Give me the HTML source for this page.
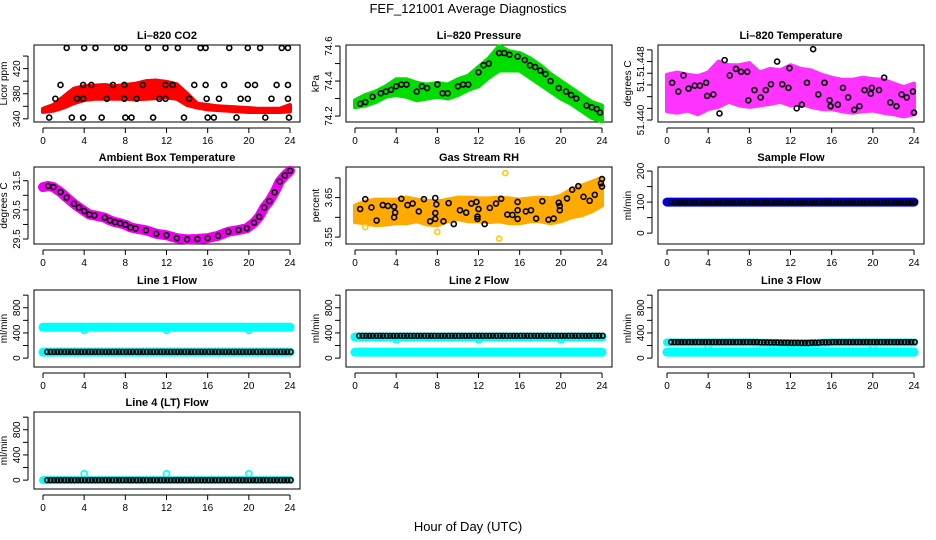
<!DOCTYPE html>
<html><head><meta charset="utf-8">
<style>
html,body{margin:0;padding:0;background:#fff;}
svg{display:block;font-family:"Liberation Sans",Arial,sans-serif;}
</style></head>
<body>
<svg id="chart" width="936" height="540" viewBox="0 0 936 540" xmlns="http://www.w3.org/2000/svg">
<text x="468" y="13" font-size="13" text-anchor="middle">FEF_121001  Average Diagnostics</text>
<text x="468" y="531" font-size="13" text-anchor="middle">Hour of Day (UTC)</text>
</svg>
<script>
// ---------- data ----------
const hourly = [0,1,2,3,4,5,6,7,8,9,10,11,12,13,14,15,16,17,18,19,20,21,22,23,24];
const xTicks = [0,4,8,12,16,20,24];

// CO2
const co2Lo = [351,353,358,365,370,372,372,372,372,371,372,373,374,372,362,358,355,354,353,352,351,351,351,351,352];
const co2Hi = [356,362,375,388,392,393,394,392,394,396,400,401,399,395,380,364,362,360,359,358,357,356,356,356,362];
const co2PtH = [2.3,4.0,5.1,7.2,7.9,10.2,11.9,13.1,15.3,15.8,18.1,19.9,21.1,23.2,23.8,
 1.7,3.9,4.7,6.8,7.9,9.7,11.9,12.6,14.7,15.8,17.6,19.9,20.6,22.7,23.8,
 1.2,3.3,3.9,6.2,7.9,9.1,11.3,11.9,14.2,15.9,17.1,19.2,19.9,22.2,23.8,
 0.6,2.8,3.9,5.7,8.0,8.6,10.7,13.7,16.0,16.6,18.8,21.6,23.9];
const co2PtV = [453,453,453,453,453,453,453,453,453,453,453,453,453,453,453,
 394,394,394,394,394,394,394,394,394,394,394,394,394,394,394,
 372,372,372,372,372,372,372,372,372,372,372,372,372,372,372,
 342,342,342,342,342,342,342,342,342,342,342,342,342];

// Pressure
const presLo = [74.25,74.26,74.28,74.31,74.32,74.31,74.29,74.30,74.31,74.30,74.32,74.35,74.37,74.42,74.46,74.46,74.46,74.42,74.38,74.34,74.30,74.27,74.23,74.19,74.17];
const presHi = [74.29,74.32,74.34,74.37,74.41,74.41,74.39,74.38,74.39,74.38,74.41,74.43,74.48,74.53,74.60,74.57,74.56,74.53,74.49,74.44,74.40,74.36,74.32,74.28,74.26];
const presPtH = [0.5,1,1.7,2.5,3,3.5,4,4.5,5,6,6.5,7,8,8.5,9,10,10.5,11,12,12.5,13,14,14.5,15,15.8,16.5,17,17.5,18,18.5,19,19.8,20.5,21,21.5,22.5,23,23.5,23.8];
const presPtV = [74.27,74.28,74.31,74.33,74.34,74.35,74.37,74.38,74.38,74.34,74.37,74.36,74.38,74.33,74.33,74.37,74.38,74.38,74.45,74.49,74.50,74.56,74.56,74.55,74.54,74.52,74.49,74.48,74.46,74.44,74.40,74.36,74.34,74.32,74.30,74.26,74.25,74.24,74.22];

// Li-820 temperature
const tLo = [51.4412,51.4410,51.4413,51.4408,51.4415,51.4418,51.4425,51.4420,51.4418,51.4420,51.4422,51.4425,51.4420,51.4422,51.4418,51.4415,51.4415,51.4412,51.4410,51.4412,51.4413,51.4410,51.4408,51.4405,51.4408];
const tHi = [51.4462,51.4465,51.4462,51.4460,51.4465,51.4480,51.4475,51.4475,51.4478,51.4465,51.4470,51.4468,51.4475,51.4470,51.4468,51.4462,51.4458,51.4455,51.4455,51.4458,51.4456,51.4455,51.4450,51.4445,51.4450];
const tPtH = [0.5,1.1,1.6,2.1,2.7,3.2,3.8,3.9,4.5,5.1,5.6,6.1,6.7,7.2,7.8,7.9,8.5,9.1,9.6,10.1,10.7,11.2,11.8,11.9,12.6,13.1,13.6,14.2,14.7,15.3,15.8,15.9,16.6,17.1,17.6,18.2,18.7,19.2,19.8,19.9,20.6,21.1,21.7,22.3,22.8,23.3,23.9,24.0];
const tPtV = [51.4451,51.4439,51.4461,51.4443,51.4447,51.4447,51.4451,51.4433,51.4435,51.4409,51.4482,51.4461,51.4470,51.4466,51.4466,51.4427,51.4441,51.4431,51.4441,51.4449,51.4480,51.4449,51.4444,51.4471,51.4416,51.4421,51.4451,51.4497,51.4435,51.4451,51.4427,51.4419,51.4421,51.4444,51.4431,51.4414,51.4419,51.4441,51.4436,51.4444,51.4441,51.4458,51.4424,51.4419,51.4435,51.4431,51.4439,51.4410];

// Ambient box temperature
const ambH = [0.5,1,1.7,2.3,3,3.5,4,4.5,5,6,6.5,7,7.5,8,8.5,9,10,11,12,13,14,15,16,17,18,19,19.8,20.5,21,21.5,22,22.5,23,23.5,24];
const ambV = [31.32,31.28,31.11,30.92,30.71,30.58,30.46,30.34,30.31,30.23,30.14,30.08,30.04,29.99,29.90,29.86,29.80,29.68,29.63,29.53,29.49,29.50,29.53,29.61,29.75,29.81,29.87,30.06,30.26,30.58,30.80,31.10,31.47,31.68,31.84];

// Gas stream RH
const rhLo = [3.588,3.585,3.580,3.582,3.585,3.585,3.590,3.582,3.580,3.590,3.595,3.590,3.590,3.588,3.590,3.585,3.585,3.590,3.590,3.585,3.590,3.600,3.605,3.615,3.630];
const rhHi = [3.630,3.640,3.645,3.645,3.645,3.650,3.645,3.642,3.640,3.645,3.650,3.650,3.648,3.648,3.650,3.648,3.645,3.648,3.650,3.648,3.655,3.670,3.680,3.690,3.700];
const rhPtH = [0.5,1.0,1.6,2.1,2.7,3.2,3.8,3.9,3.8,4.5,5.1,5.6,6.2,6.7,7.3,7.8,7.9,7.8,7.8,8.6,9.1,9.6,10.2,10.8,11.3,11.8,11.9,11.9,12.0,12.6,13.1,13.7,14.2,14.8,15.3,15.8,15.8,15.8,16.6,17.1,17.6,18.2,18.8,19.3,19.8,19.9,19.9,20.6,21.1,21.7,22.2,22.8,23.3,23.9,24.0,24.0];
const rhPtV = [3.621,3.646,3.625,3.592,3.631,3.629,3.627,3.612,3.600,3.647,3.631,3.635,3.615,3.646,3.590,3.649,3.633,3.611,3.596,3.590,3.636,3.583,3.618,3.612,3.635,3.639,3.602,3.596,3.621,3.583,3.624,3.635,3.647,3.607,3.606,3.639,3.618,3.596,3.615,3.618,3.597,3.641,3.594,3.597,3.637,3.629,3.618,3.648,3.670,3.679,3.652,3.642,3.657,3.686,3.697,3.678];
const rhOutH = [14.6,14.0,8.0,1.0];
const rhOutV = [3.712,3.546,3.563,3.575];

// Sample flow
const sampleFlow = [100,100,100,100,100,100,100,100,100,100,100,100,100,100,100,100,100,100,100,100,100,100,100,100,100];

// Line flows (hourly black values, cyan series)
const l1Black = [100,100,100,100,100,100,100,100,100,100,100,100,100,100,100,100,100,100,100,100,100,100,100,100,100];
const l1CyanHi = [490,490,490,490,490,490,490,490,490,490,490,490,490,490,490,490,490,490,490,490,490,490,490,490,490];
const l1CyanLo = [95,95,95,95,95,95,95,95,95,95,95,95,95,95,95,95,95,95,95,95,95,95,95,95,95];
const l2Black = [355,355,355,355,355,355,355,355,355,355,355,355,355,355,355,355,355,355,355,355,355,355,355,355,355];
const l2CyanHi = [335,335,335,335,335,335,335,335,335,335,335,335,335,335,335,335,335,335,335,335,335,335,335,335,335];
const l2CyanLo = [95,95,95,95,95,95,95,95,95,95,95,95,95,95,95,95,95,95,95,95,95,95,95,95,95];
const l3Black = [255,255,255,255,255,255,255,255,255,250,248,245,242,240,245,250,255,255,255,255,255,255,255,255,255];
const l3CyanHi = [250,248,248,248,248,248,248,248,248,245,242,240,238,236,240,245,248,248,248,248,248,248,248,248,248];
const l3CyanLo = [95,95,95,95,95,95,95,95,95,95,95,95,95,95,95,95,95,95,95,95,95,95,95,95,95];
const l4Black = [0,0,0,0,0,0,0,0,0,0,0,0,0,0,0,0,0,0,0,0,0,0,0,0,0];
const l4CyanLo = [0,0,0,0,0,0,0,0,0,0,0,0,0,0,0,0,0,0,0,0,0,0,0,0,0];
const dipH = [4,12,20];
const l1DipV = [440,440,440];
const l2DipV = [290,290,290];
const l3DipV = [190,190,190];
const l4SpikeV = [100,100,100];

// ---------- drawing ----------
const NS = "http://www.w3.org/2000/svg";
const svg = document.getElementById("chart");
function mk(tag, attrs, parent){
  const e = document.createElementNS(NS, tag);
  for (const k in attrs) e.setAttribute(k, attrs[k]);
  (parent||svg).appendChild(e);
  return e;
}
const colOff = [0,312,624];
const rowTop = [45,167,290,412];
const BH = 77;

function panel(col,row,name,title,ylab,ymin,ymax,yt,ylabels){
  const L = 34+colOff[col], R = 300+colOff[col], T = rowTop[row], B = T+BH;
  const g = mk("g",{});
  
  
  const x = h => 43+colOff[col] + h*(247/24);
  const y = v => B - (v-ymin)/(ymax-ymin)*BH;
  const t = mk("text",{x:(L+R)/2,y:T-6,"font-size":"11","font-weight":"bold","text-anchor":"middle"},g);
  t.textContent = title;
  
  
  const box = mk("rect",{x:L,y:T,width:R-L,height:BH,fill:"none",stroke:"#000","stroke-width":"1"},g);
  
  
  const xa = mk("g",{},g);
  
  
  mk("line",{x1:x(0),x2:x(24),y1:B+6,y2:B+6,stroke:"#000"},xa);
  xTicks.forEach(h=>{
    mk("line",{x1:x(h),x2:x(h),y1:B+6,y2:B+11,stroke:"#000"},xa);
    const tl = mk("text",{x:x(h),y:B+22,"font-size":"10","text-anchor":"middle"},xa);
    tl.textContent = h;
    
    
  });
  const ya = mk("g",{},g);
  
  
  mk("line",{x1:L-6,x2:L-6,y1:y(yt[0]),y2:y(yt[yt.length-1]),stroke:"#000"},ya);
  yt.forEach((v,i)=>{
    mk("line",{x1:L-11,x2:L-6,y1:y(v),y2:y(v),stroke:"#000"},ya);
    if (ylabels[i]) {
      const tl = mk("text",{x:0,y:0,"font-size":"10","text-anchor":"middle",transform:`translate(${L-14},${y(v)}) rotate(-90)`},ya);
      tl.textContent = ylabels[i];
      
      
    }
  });
  const yl = mk("text",{x:0,y:0,"font-size":"10","text-anchor":"middle",transform:`translate(${L-27},${(T+B)/2}) rotate(-90)`},g);
  yl.textContent = ylab;
  
  
  return {x,y,g};
}
function band(p,hs,lo,hi,color,name){
  let d = "M"+hs.map((h,i)=>p.x(h)+","+p.y(hi[i])).join(" L");
  d += " L"+hs.map((h,i)=>p.x(h)+","+p.y(lo[i])).reverse().join(" L")+" Z";
  const e = mk("path",{d:d,fill:color,stroke:color,"stroke-width":"4","stroke-linejoin":"round"},p.g);
  
  
}
function pts(p,hs,vs,color,name,r){
  const g = mk("g",{},p.g);
  
  
  hs.forEach((h,i)=>{
    mk("circle",{cx:p.x(h),cy:p.y(vs[i]),r:r||2.5,fill:"none",stroke:color,"stroke-width":"1.6"},g);
  });
}
function thick(p,hs,vs,color,w,name){
  const e = mk("polyline",{points:hs.map((h,i)=>p.x(h)+","+p.y(vs[i])).join(" "),fill:"none",stroke:color,"stroke-width":w,"stroke-linecap":"round","stroke-linejoin":"round"},p.g);
  
  
}
function stepPts(p,vals,color,name){
  const hs=[], vs=[];
  hourly.forEach((h,i)=>{ [0.4,0.73].forEach(o=>{ if(h+o<=24.05){hs.push(h+o);vs.push(vals[i]);} }); if(h>0){hs.push(h+0.07);vs.push(vals[i]);} });
  pts(p,hs,vs,color,name,2.4);
}

// Panel 1: CO2
let p = panel(0,0,"co2","Li\u2013820 CO2","Licor ppm",335,457.6,[340,360,380,400,420,440],["340","","380","","420",""]);
band(p,hourly,co2Lo,co2Hi,"#ff0000","co2-red-band");
pts(p,co2PtH,co2PtV,"#000","co2-black-points");

// Panel 2: Pressure
p = panel(1,0,"pressure","Li\u2013820 Pressure","kPa",74.166,74.606,[74.2,74.3,74.4,74.5,74.6],["74.2","","74.4","","74.6"]);
band(p,hourly,presLo,presHi,"#00dd00","pressure-green-band");
pts(p,presPtH,presPtV,"#000","pressure-black-points");

// Panel 3: Li-820 temperature
p = panel(2,0,"li820-temp","Li\u2013820 Temperature","degrees C",51.43973,51.45027,[51.44,51.4416,51.4432,51.4448,51.4464,51.448,51.4496],["51.440","","","51.","","51.448",""]);
band(p,hourly,tLo,tHi,"#ff33ff","li820-temp-magenta-band");
pts(p,tPtH,tPtV,"#000","li820-temp-black-points");

// Panel 4: Ambient box temperature
p = panel(0,1,"ambient-temp","Ambient Box Temperature","degrees C",29.33,31.97,[29.5,30,30.5,31,31.5],["29.5","","30.5","","31.5"]);
thick(p,[0].concat(ambH),[31.28].concat(ambV),"#ee00ee","10","ambient-temp-magenta-band");
pts(p,ambH,ambV,"#000","ambient-temp-black-points");

// Panel 5: Gas stream RH
p = panel(1,1,"gas-rh","Gas Stream RH","percent",3.5325,3.7275,[3.55,3.6,3.65,3.7],["3.55","","3.65",""]);
band(p,hourly,rhLo,rhHi,"#ffaa00","gas-rh-orange-band");
pts(p,rhOutH,rhOutV,"#ffcc00","gas-rh-outliers");
pts(p,rhPtH,rhPtV,"#000","gas-rh-black-points");

// Panel 6: Sample flow
p = panel(2,1,"sample-flow","Sample Flow","ml/min",-35,213,[0,50,100,150,200],["0","","100","","200"]);
thick(p,hourly,sampleFlow,"#0000ee","9","sample-flow-blue-band");
stepPts(p,sampleFlow,"#000","sample-flow-black-points");

// Panel 7-10: Line flows
const fT=[0,200,400,600,800,1000], fL=["0","","400","","800",""];
p = panel(0,2,"line1","Line 1 Flow","ml/min",-141,1082,fT,fL);
thick(p,hourly,l1CyanHi,"#00ffff","9","line1-cyan-upper");
thick(p,hourly,l1CyanLo,"#00ffff","9","line1-cyan-lower");
pts(p,dipH,l1DipV,"#00ffff","line1-cyan-dips",3);
stepPts(p,l1Black,"#000","line1-black-points");

p = panel(1,2,"line2","Line 2 Flow","ml/min",-141,1082,fT,fL);
thick(p,hourly,l2CyanHi,"#00ffff","9","line2-cyan-upper");
thick(p,hourly,l2CyanLo,"#00ffff","9","line2-cyan-lower");
pts(p,dipH,l2DipV,"#00ffff","line2-cyan-dips",3);
stepPts(p,l2Black,"#000","line2-black-points");

p = panel(2,2,"line3","Line 3 Flow","ml/min",-141,1082,fT,fL);
thick(p,hourly,l3CyanHi,"#00ffff","8","line3-cyan-upper");
thick(p,hourly,l3CyanLo,"#00ffff","9","line3-cyan-lower");
pts(p,dipH,l3DipV,"#00ffff","line3-cyan-dips",3);
stepPts(p,l3Black,"#000","line3-black-points");

p = panel(0,3,"line4","Line 4 (LT) Flow","ml/min",-141,1082,fT,fL);
thick(p,hourly,l4CyanLo,"#00ffff","8","line4-cyan-series");
pts(p,dipH,l4SpikeV,"#00ffff","line4-cyan-spikes",3);
stepPts(p,l4Black,"#000","line4-black-points");
</script>
</body></html>
